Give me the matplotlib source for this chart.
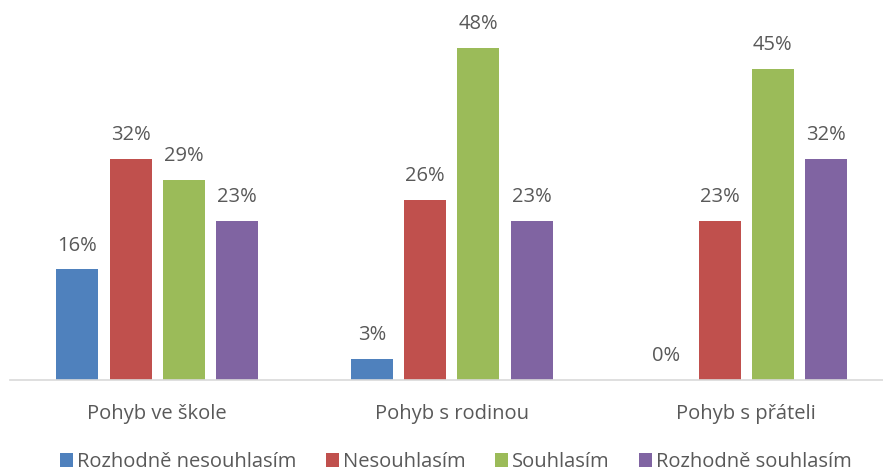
import matplotlib
matplotlib.use("Agg")
import matplotlib.pyplot as plt
import numpy as np
from matplotlib.patches import Patch

categories = ["Pohyb ve škole", "Pohyb s rodinou", "Pohyb s přáteli"]
series_names = ["Rozhodně nesouhlasím", "Nesouhlasím", "Souhlasím", "Rozhodně souhlasím"]
rozhodne_nesouhlasim = [16, 3, 0]
nesouhlasim = [32, 26, 23]
souhlasim = [29, 48, 45]
rozhodne_souhlasim = [23, 23, 32]
series = [rozhodne_nesouhlasim, nesouhlasim, souhlasim, rozhodne_souhlasim]
colors = ["#4F81BD", "#C0504D", "#9BBB59", "#8064A2"]

TEXT = "#595959"
FS = 14.5
plt.rcParams["font.family"] = ["Open Sans", "DejaVu Sans"]

W, H = 883, 472
fig = plt.figure(figsize=(W / 100, H / 100), dpi=100)
# plot area in pixel terms: baseline at y=380, category width ~294.5 px
left, base, cat_w, top = 10, 380, 294.5, 34.4
ax = fig.add_axes([left / W, 1 - base / H, 3 * cat_w / W, (base - top) / H])
ax.set_xlim(0, 3)
ax.set_ylim(0, 50)

x = np.arange(3) + 0.5
pitch = 53.3 / cat_w
width = 42 / cat_w
for i, (vals, col) in enumerate(zip(series, colors)):
    pos = x + (i - 1.5) * pitch
    ax.bar(pos, vals, width=width, color=col, linewidth=0)
    for px, v in zip(pos, vals):
        ax.text(px, v + 2.0, f"{v}%", ha="center", va="bottom",
                fontsize=FS, color=TEXT, clip_on=False)

for s in ["left", "right", "top"]:
    ax.spines[s].set_visible(False)
ax.spines["bottom"].set_color("#D9D9D9")
ax.spines["bottom"].set_linewidth(1.2)
ax.set_yticks([])
ax.set_xticks(x)
ax.set_xticklabels(categories, fontsize=FS, color=TEXT)
ax.tick_params(axis="x", length=0, pad=17)

handles = [Patch(facecolor=c, edgecolor="none") for c in colors]
fig.legend(handles, series_names, loc="center", bbox_to_anchor=(456 / W, 1 - 462 / H),
           ncol=4, frameon=False, fontsize=FS, labelcolor=TEXT, borderpad=0,
           handlelength=0.65, handleheight=0.65, handletextpad=0.2, columnspacing=1.45)

fig.savefig("out.png", dpi=100, facecolor="white")
